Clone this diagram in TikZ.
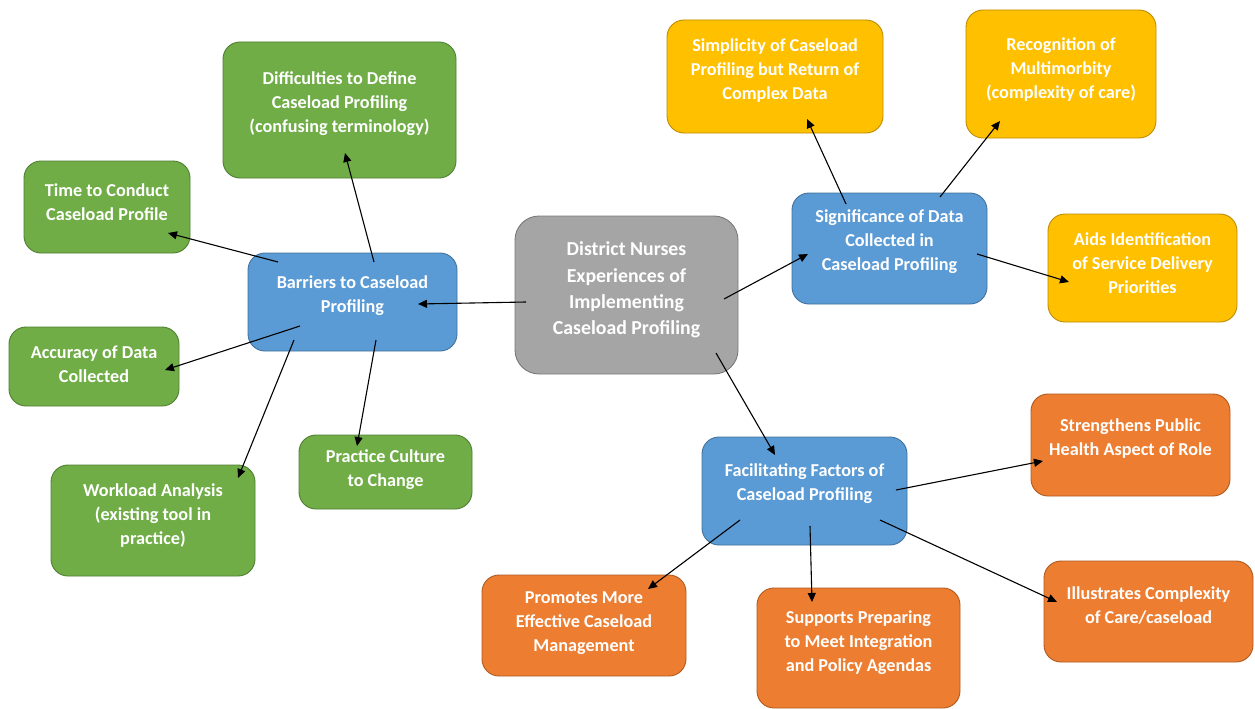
\documentclass[tikz,border=0pt]{standalone}
\usepackage{fontspec}
\setmainfont{Carlito}[BoldFont={Carlito Bold}]
\usetikzlibrary{arrows.meta}
\definecolor{blueF}{HTML}{5B9BD5}\definecolor{blueD}{HTML}{41719C}
\definecolor{greenF}{HTML}{70AD47}\definecolor{greenD}{HTML}{507E32}
\definecolor{goldF}{HTML}{FFC000}\definecolor{goldD}{HTML}{BC8C00}
\definecolor{orangeF}{HTML}{ED7D31}\definecolor{orangeD}{HTML}{AE5A21}
\definecolor{grayF}{HTML}{A5A5A5}\definecolor{grayD}{HTML}{7A7A7A}
\tikzset{
  box/.style={rounded corners=17pt, line width=0.9pt, inner sep=0pt},
  bluebox/.style={box, fill=blueF, draw=blueD},
  greenbox/.style={box, fill=greenF, draw=greenD},
  goldbox/.style={box, fill=goldF, draw=goldD},
  orangebox/.style={box, fill=orangeF, draw=orangeD},
  graybox/.style={box, rounded corners=24pt, fill=grayF, draw=grayD},
  txt/.style={text=white, align=center, inner sep=0pt,
    font=\fontsize{18.2}{24}\selectfont\bfseries},
  bigtxt/.style={txt, font=\fontsize{19.8}{26.3}\selectfont\bfseries},
  arr/.style={-{Triangle[length=9pt,width=8pt]}, line width=1.1pt, black},
}
\begin{document}
\begin{tikzpicture}[x=1pt,y=-1pt]
\useasboundingbox (0,0) rectangle (1255,709);

% boxes
\node[graybox, minimum width=223pt, minimum height=158pt] (ctr) at (626.5,295) {};
\node[bluebox, minimum width=209pt, minimum height=98pt] (bar) at (352.5,302) {};
\node[greenbox, minimum width=233pt, minimum height=136pt] (diff) at (339.5,110) {};
\node[greenbox, minimum width=166pt, minimum height=92pt] (time) at (107,207) {};
\node[greenbox, minimum width=170pt, minimum height=79pt] (acc) at (94,366.5) {};
\node[greenbox, minimum width=204pt, minimum height=111pt] (work) at (153,520.5) {};
\node[greenbox, minimum width=173pt, minimum height=74pt] (prac) at (385.5,472) {};
\node[bluebox, minimum width=195pt, minimum height=111pt] (sig) at (889.5,248.5) {};
\node[goldbox, minimum width=216pt, minimum height=113pt] (simp) at (775,76.5) {};
\node[goldbox, minimum width=190pt, minimum height=128pt] (reco) at (1061,74) {};
\node[goldbox, minimum width=189pt, minimum height=108pt] (aids) at (1142.5,268) {};
\node[bluebox, minimum width=205pt, minimum height=108pt] (fac) at (804.5,491) {};
\node[orangebox, minimum width=199pt, minimum height=102pt] (str) at (1130.5,445) {};
\node[orangebox, minimum width=209pt, minimum height=101pt] (ill) at (1148.5,611.5) {};
\node[orangebox, minimum width=204pt, minimum height=101pt] (prom) at (584,625.5) {};
\node[orangebox, minimum width=203pt, minimum height=120pt] (supp) at (858.5,648) {};

% labels
\node[bigtxt] (ctrT) at ([yshift=5pt]ctr.center) {District Nurses\\Experiences of\\Implementing\\Caseload Profiling};
\node[txt] (barT) at ([yshift=6pt]bar.center) {Barriers to Caseload\\Profiling};
\node[txt] (diffT) at ([yshift=6pt]diff.center) {Difficulties to Define\\Caseload Profiling\\(confusing terminology)};
\node[txt] (timeT) at ([yshift=5pt]time.center) {Time to Conduct\\Caseload Profile};
\node[txt] (accT) at ([yshift=2pt]acc.center) {Accuracy of Data\\Collected};
\node[txt] (workT) at ([yshift=5pt]work.center) {Workload Analysis\\(existing tool in\\practice)};
\node[txt] (pracT) at ([yshift=2pt]prac.center) {Practice Culture\\to Change};
\node[txt] (sigT) at ([yshift=7pt]sig.center) {Significance of Data\\Collected in\\Caseload Profiling};
\node[txt] (simpT) at ([yshift=6pt]simp.center) {Simplicity of Caseload\\Profiling but Return of\\Complex Data};
\node[txt] (recoT) at ([yshift=4pt]reco.center) {Recognition of\\Multimorbity\\(complexity of care)};
\node[txt] (aidsT) at ([yshift=5pt]aids.center) {Aids Identification\\of Service Delivery\\Priorities};
\node[txt] (facT) at ([yshift=7pt]fac.center) {Facilitating Factors of\\Caseload Profiling};
\node[txt] (strT) at ([yshift=6pt]str.center) {Strengthens Public\\Health Aspect of Role};
\node[txt] (illT) at ([yshift=6pt]ill.center) {Illustrates Complexity\\of Care/caseload};
\node[txt] (promT) at ([yshift=2pt]prom.center) {Promotes More\\Effective Caseload\\Management};
\node[txt] (suppT) at ([yshift=5pt]supp.center) {Supports Preparing\\to Meet Integration\\and Policy Agendas};

% connectors: from inside the source box to inside the target box
\draw[arr] ([shift={(-100.5,7)}]ctr.center) -- ([shift={(65.5,2)}]bar.center);
\draw[arr] ([shift={(97.5,4)}]ctr.center) -- ([shift={(-81.5,5.5)}]sig.center);
\draw[arr] ([shift={(89.5,58)}]ctr.center) -- ([shift={(-29.5,-36)}]fac.center);

\draw[arr] ([shift={(-74.5,-40)}]bar.center) -- ([shift={(61,26)}]time.center);
\draw[arr] ([shift={(21.5,-40)}]bar.center) -- ([shift={(5.5,43)}]diff.center);
\draw[arr] ([shift={(-52.5,24)}]bar.center) -- ([shift={(71,3.5)}]acc.center);
\draw[arr] ([shift={(-58.5,38)}]bar.center) -- ([shift={(85,-42.5)}]work.center);
\draw[arr] ([shift={(23.5,38)}]bar.center) -- ([shift={(-28.5,-26)}]prac.center);

\draw[arr] ([shift={(-43.5,-44.5)}]sig.center) -- ([shift={(32,42.5)}]simp.center);
\draw[arr] ([shift={(50.5,-51.5)}]sig.center) -- ([shift={(-61,47)}]reco.center);
\draw[arr] ([shift={(87.5,5.5)}]sig.center) -- ([shift={(-73.5,14)}]aids.center);

\draw[arr] ([shift={(91.5,-1)}]fac.center) -- ([shift={(-87.5,16)}]str.center);
\draw[arr] ([shift={(-64.5,29)}]fac.center) -- ([shift={(64,-36.5)}]prom.center);
\draw[arr] ([shift={(5.5,35)}]fac.center) -- ([shift={(-46.5,-46)}]supp.center);
\draw[arr] ([shift={(75.5,29)}]fac.center) -- ([shift={(-91.5,-9.5)}]ill.center);
\end{tikzpicture}
\end{document}
